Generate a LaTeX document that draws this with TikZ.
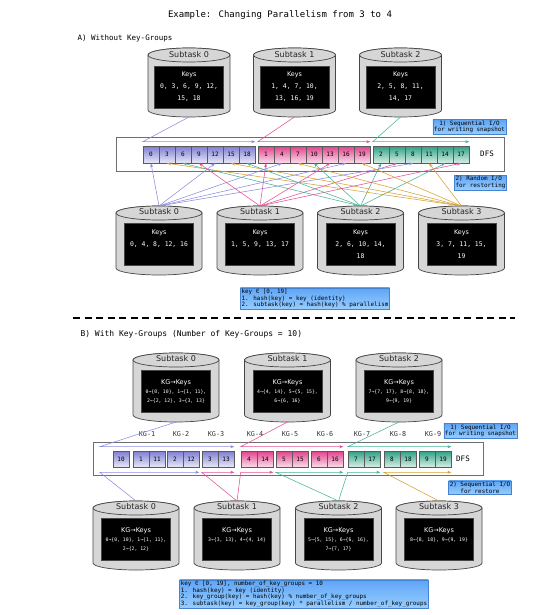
\documentclass[tikz,border=0pt]{standalone}
\usepackage{fontspec}
\setmainfont{DejaVu Sans Mono}
\newfontfamily\labelsans{DejaVu Sans}
\usetikzlibrary{arrows.meta, positioning, calc}
\definecolor{dbfill}{RGB}{214,214,214}
\definecolor{dbline}{RGB}{70,70,70}
\definecolor{cellline}{RGB}{90,90,90}
\definecolor{cell0}{RGB}{125,125,210}
\definecolor{cell1}{RGB}{225,65,140}
\definecolor{cell2}{RGB}{45,160,130}
\definecolor{ln0}{RGB}{140,140,225}
\definecolor{ln1}{RGB}{228,80,150}
\definecolor{ln2}{RGB}{70,180,150}
\definecolor{ln3}{RGB}{215,160,50}
\definecolor{notetop}{RGB}{95,165,245}
\definecolor{notebot}{RGB}{150,205,255}
\definecolor{noteline}{RGB}{70,130,210}
\definecolor{boxline}{RGB}{110,110,110}

% cylinder drawn round a named (invisible) node: #1 node, #2 half width
\newcommand{\dbcylinder}[2]{%
    \draw[dbdraw] ([yshift=-7pt]#1.north west) -- ([yshift=7pt]#1.south west)
        arc[start angle=180, end angle=360, x radius=#2, y radius=7pt]
        -- ([yshift=-7pt]#1.north east)
        arc[start angle=0, end angle=180, x radius=#2, y radius=7pt] -- cycle;
    \draw[dbdraw] ([yshift=-7pt]#1.north) ellipse [x radius=#2, y radius=7pt];
}

\begin{document}
\begin{tikzpicture}[x=1pt, y=-1pt,
    every node/.style={font=\fontsize{7}{8}\selectfont},
    subtaskdb/.style={minimum width=86pt, minimum height=69pt, inner sep=0pt, outer sep=0pt},
    dbdraw/.style={draw=dbline, fill=dbfill, line width=0.7pt},
    dbhead/.style={font=\labelsans\fontsize{8}{9}\selectfont, text=black!85, inner sep=0pt},
    keybox/.style={fill=black, draw=dbline, minimum width=69pt, minimum height=42pt, text=white,
        align=center, inner sep=0pt, font=\fontsize{6.4}{12}\selectfont},
    kgbox/.style={keybox, font=\fontsize{4.8}{9}\selectfont},
    keycell/.style={draw=cellline, line width=0.6pt, top color=#1, bottom color=#1!18!white,
        minimum width=16pt, minimum height=17pt, inner sep=0pt, font=\fontsize{6}{7}\selectfont},
    dfsbox/.style={draw=boxline, fill=white, line width=0.9pt},
    kglbl/.style={font=\fontsize{6.8}{8}\selectfont, text=black!80},
    infonote/.style={draw=noteline, top color=notetop, bottom color=notebot, inner sep=1.2pt,
        font=\fontsize{5.9}{6.6}\selectfont},
    flow/.style={line width=0.55pt, -{Stealth[length=4pt, width=3pt]}},
]
\useasboundingbox (0,0) rectangle (550,615);

% Title
\node[font=\fontsize{9}{10}\selectfont] (title) at (280,15) {Example: Changing Parallelism from 3 to 4};

% ---------------- A) Without Key-Groups ----------------
\node[anchor=west, font=\fontsize{7.5}{9}\selectfont] (partA) at (74,38) {A) Without Key-Groups};

% old subtasks
\foreach \s/\x/\keys in {0/189/{0, 3, 6, 9, 12,\\15, 18}, 1/294.5/{1, 4, 7, 10,\\13, 16, 19}, 2/400.5/{2, 5, 8, 11,\\14, 17}} {
    \node[subtaskdb, minimum width=82pt] (cA\s) at (\x,82.5) {};
    \dbcylinder{cA\s}{41pt}
    \node[dbhead] (hcA\s) at (\x,55) {Subtask \s};
    \node[keybox] (kcA\s) at (\x,87) {{\labelsans Keys}\\\keys};
}

% DFS
\node[dfsbox, minimum width=388pt, minimum height=34pt] (dfsA) at (310,154) {};
\node[font=\fontsize{7.5}{9}\selectfont] (dfsAlbl) at (487,154) {DFS};
\foreach \k in {0,...,19} {
    \pgfmathtruncatemacro\g{mod(\k,3)}
    \pgfmathtruncatemacro\pos{floor(\k/3)}
    \node[keycell=cell\g] (a\k) at ({151+115*\g+16*\pos},154.5) {\k};
}

% new subtasks
\foreach \s/\x/\keys in {0/159/{0, 4, 8, 12, 16\\\mbox{}}, 1/260/{1, 5, 9, 13, 17\\\mbox{}}, 2/360.5/{2, 6, 10, 14,\\18}, 3/461.5/{3, 7, 11, 15,\\19}} {
    \node[subtaskdb] (sA\s) at (\x,240.5) {};
    \dbcylinder{sA\s}{43pt}
    \node[dbhead] (hsA\s) at (\x,212) {Subtask \s};
    \node[keybox] (ksA\s) at (\x,244) {{\labelsans Keys}\\\keys};
}

% 1) sequential write
\foreach \s/\first/\last in {0/0/18, 1/1/19, 2/2/17} {
    \draw[flow, ln\s] (cA\s.south) -- ([yshift=4pt]a\first.north west) -- ([yshift=4pt]a\last.north east);
}
% 2) random read
\foreach \k in {0,...,19} {
    \pgfmathtruncatemacro\m{mod(\k,4)}
    \draw[flow, ln\m] (sA\m.north) -- (a\k.south);
}

\node[infonote, align=center] (wrA) at (469.5,127) {1) Sequential I/O\\for writing snapshot};
\node[infonote, align=left] (rdA) at (480.5,182.5) {2) Random I/O\\for restorting};
\node[infonote, align=left] (rulesA) at (315,298.5) {key ∈ [0, 19]\\1. hash(key) = key (identity)\\2. subtask(key) = hash(key) \% parallelism};

% separator
\draw[line width=1.4pt, dash pattern=on 7pt off 4.5pt] (73,318) -- (515,318);

% ---------------- B) With Key-Groups ----------------
\node[anchor=west, font=\fontsize{8}{9}\selectfont] (partB) at (77,334) {B) With Key-Groups (Number of Key-Groups = 10)};

% old subtasks
\foreach \s/\x/\keys in {0/176/{0→\{0, 10\}, 1→\{1, 11\},\\2→\{2, 12\}, 3→\{3, 13\}}, 1/287.5/{4→\{4, 14\}, 5→\{5, 15\},\\6→\{6, 16\}}, 2/399/{7→\{7, 17\}, 8→\{8, 18\},\\9→\{9, 19\}}} {
    \node[subtaskdb] (cB\s) at (\x,387.5) {};
    \dbcylinder{cB\s}{43pt}
    \node[dbhead] (hcB\s) at (\x,359) {Subtask \s};
    \node[kgbox] (kcB\s) at (\x,391.5) {{\labelsans\fontsize{6.5}{9}\selectfont KG→Keys}\\\keys};
}

% DFS with key-groups
\node[dfsbox, minimum width=390pt, minimum height=33pt] (dfsB) at (288,458.5) {};
\node[font=\fontsize{7.5}{9}\selectfont] (dfsBlbl) at (463,459) {DFS};
\node[keycell=cell0, minimum height=16pt] (b10) at (121,459) {10};
\foreach \j/\x/\c in {1/133/0, 2/167/0, 3/202/0, 4/241/1, 5/276/1, 6/311/1, 7/348/2, 8/384/2, 9/419/2} {
    \node[keycell=cell\c, minimum height=16pt] (b\j) at (\x+8,459) {\j};
    \node[keycell=cell\c, minimum height=16pt] (b1\j) at (\x+24,459) {1\j};
    \node[kglbl] (kg\j) at (\x+14,434) {KG-\j};
}

% new subtasks
\foreach \s/\x/\keys in {0/136/{0→\{0, 10\}, 1→\{1, 11\},\\2→\{2, 12\}}, 1/237/{3→\{3, 13\}, 4→\{4, 14\}\\\mbox{}}, 2/338.5/{5→\{5, 15\}, 6→\{6, 16\},\\7→\{7, 17\}}, 3/439/{8→\{8, 18\}, 9→\{9, 19\}\\\mbox{}}} {
    \node[subtaskdb] (sB\s) at (\x,535.5) {};
    \dbcylinder{sB\s}{43pt}
    \node[dbhead] (hsB\s) at (\x,507) {Subtask \s};
    \node[kgbox] (ksB\s) at (\x,539) {{\labelsans\fontsize{6.5}{9}\selectfont KG→Keys}\\\keys};
}

% 1) sequential write
\draw[flow, ln0] (cB0.south) -- ([xshift=-13pt, yshift=4pt]b10.north west) -- ([yshift=4pt]b13.north east);
\draw[flow, ln1] (cB1.south) -- ([yshift=4pt]b4.north west) -- ([yshift=4pt]b16.north east);
\draw[flow, ln2] (cB2.south) -- ([yshift=4pt]b7.north west) -- ([yshift=4pt]b19.north east);
% 2) sequential read
\draw[flow, ln0] (sB0.north) -- ([xshift=-13pt, yshift=-5pt]b10.south west) -- ([yshift=-5pt]b12.south east);
\draw[flow, ln1] (sB1.north) -- ([yshift=-5pt]b3.south west) -- ([yshift=-5pt]b13.south east);
\draw[flow, ln1] (sB1.north) -- ([yshift=-5pt]b4.south west) -- ([yshift=-5pt]b14.south east);
\draw[flow, ln2] (sB2.north) -- ([yshift=-5pt]b5.south west) -- ([yshift=-5pt]b16.south east);
\draw[flow, ln2] (sB2.north) -- ([yshift=-5pt]b7.south west) -- ([yshift=-5pt]b17.south east);
\draw[flow, ln3] (sB3.north) -- ([yshift=-5pt]b8.south west) -- ([yshift=-5pt]b19.south east);

\node[infonote, align=center] (wrB) at (480.5,431) {1) Sequential I/O\\for writing snapshot};
\node[infonote, align=center] (rdB) at (480,487.5) {2) Sequential I/O\\for restore};
\node[infonote, align=left] (rulesB) at (304,594) {key ∈ [0, 19], number\_of\_key\_groups = 10\\1. hash(key) = key (identity)\\2. key\_group(key) = hash(key) \% number\_of\_key\_groups\\3. subtask(key) = key\_group(key) * parallelism / number\_of\_key\_groups};
\end{tikzpicture}
\end{document}
